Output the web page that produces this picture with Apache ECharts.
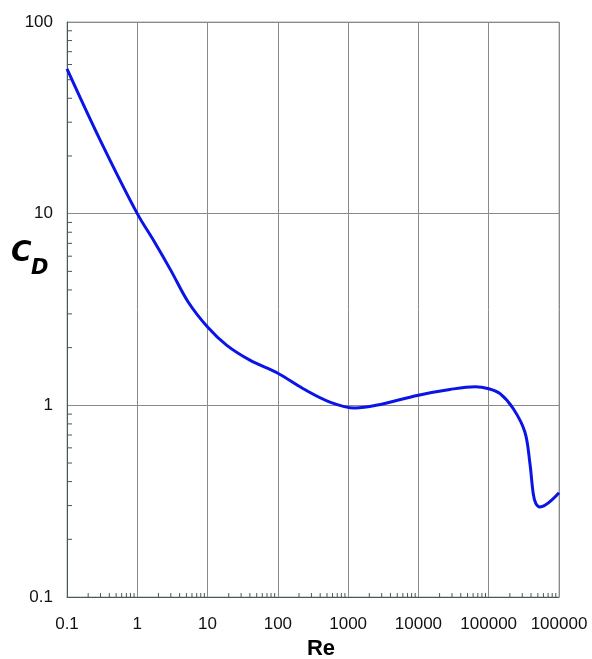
<!DOCTYPE html>
<html>
<head>
<meta charset="utf-8">
<title>Drag coefficient vs Reynolds number</title>
<script src="https://cdn.jsdelivr.net/npm/echarts@6/dist/echarts.min.js"></script>
<style>
  html, body { margin: 0; padding: 0; background: #fff; }
  #chart { width: 592px; height: 659px; }
</style>
</head>
<body>
<div id="chart"></div>
<script>
// curve
const reValues = [0.1, 0.3, 1, 1.7, 3, 5.3, 10, 18.6, 40, 100, 230, 550, 1250, 2500,
  10000, 28000, 64000, 100000, 145000, 224000, 327000, 386000, 430000, 469000, 535000, 1000000];
const cdValues = [57, 24, 10, 7.26, 5.06, 3.46, 2.56, 2.06, 1.72, 1.47, 1.22, 1.04, 0.968, 1.0,
  1.13, 1.21, 1.25, 1.22, 1.15, 0.96, 0.726, 0.497, 0.346, 0.307, 0.295, 0.35];

// tick labels as printed (last one is printed as 100000 in the original)
const xTickLabels = ['0.1', '1', '10', '100', '1000', '10000', '100000', '100000'];
const yTickLabels = ['0.1', '1', '10', '100'];

// minor ticks 2..9 in each decade
const xDecades = [0.1, 1, 10, 100, 1000, 10000, 100000];
const yDecades = [0.1, 1, 10];
const minorSteps = [2, 3, 4, 5, 6, 7, 8, 9];

const xMinor = [];
xDecades.forEach(d => minorSteps.forEach(s => xMinor.push([d * s, 0.1])));
const yMinor = [];
yDecades.forEach(d => minorSteps.forEach(s => yMinor.push([0.1, d * s])));

const chart = echarts.init(document.getElementById('chart'));

const labelFont = { fontFamily: 'Liberation Sans', fontSize: 17, color: '#111' };

const tickItem = (dx, dy) => (params, api) => {
  const p = api.coord([api.value(0), api.value(1)]);
  return {
    type: 'line',
    shape: { x1: p[0], y1: p[1], x2: p[0] + dx, y2: p[1] + dy },
    style: { stroke: '#4a5858', lineWidth: 1 }
  };
};

const option = {
  animation: false,
  grid: {
    left: 67, right: 33, top: 22, bottom: 62,
    outerBoundsMode: 'none',
    show: true,
    borderColor: '#9fb0b0',
    borderWidth: 1
  },
  xAxis: {
    type: 'log',
    logBase: 10,
    min: 0.1,
    max: 1000000,
    axisLine: { show: true, lineStyle: { color: '#4a5858', width: 1 } },
    axisTick: { show: false },
    splitLine: { show: true, lineStyle: { color: '#8a8a8a', width: 1 } },
    axisLabel: {
      ...labelFont,
      margin: 19,
      formatter: v => xTickLabels[Math.round(Math.log10(v)) + 1]
    },
    name: 'Re',
    nameLocation: 'middle',
    nameGap: 36,
    nameTextStyle: {
      fontFamily: 'Liberation Sans', fontSize: 22, fontWeight: 'bold', color: '#000',
      padding: [0, 0, 0, 16]
    }
  },
  yAxis: {
    type: 'log',
    logBase: 10,
    min: 0.1,
    max: 100,
    axisLine: { show: true, lineStyle: { color: '#4a5858', width: 1 } },
    axisTick: { show: false },
    splitLine: { show: true, lineStyle: { color: '#8a8a8a', width: 1 } },
    axisLabel: {
      ...labelFont,
      margin: 14,
      formatter: v => yTickLabels[Math.round(Math.log10(v)) + 1]
    }
  },
  graphic: [
    {
      type: 'text', left: 11, top: 240,
      style: { text: 'C', fontFamily: 'DejaVu Sans', fontSize: 28, fontWeight: 'bold', fontStyle: 'italic', fill: '#000' }
    },
    {
      type: 'text', left: 31, top: 258,
      style: { text: 'D', fontFamily: 'DejaVu Sans', fontSize: 21, fontWeight: 'bold', fontStyle: 'italic', fill: '#000' }
    }
  ],
  series: [
    {
      type: 'custom',
      data: xMinor,
      renderItem: tickItem(0, -4),
      silent: true,
      z: 3
    },
    {
      type: 'custom',
      data: yMinor,
      renderItem: tickItem(5, 0),
      silent: true,
      z: 3
    },
    {
      type: 'line',
      data: reValues.map((re, i) => [re, cdValues[i]]),
      showSymbol: false,
      smooth: 0.35,
      lineStyle: { color: '#0a14e6', width: 3, join: 'round' },
      z: 5
    }
  ]
};

chart.setOption(option);
</script>
</body>
</html>
